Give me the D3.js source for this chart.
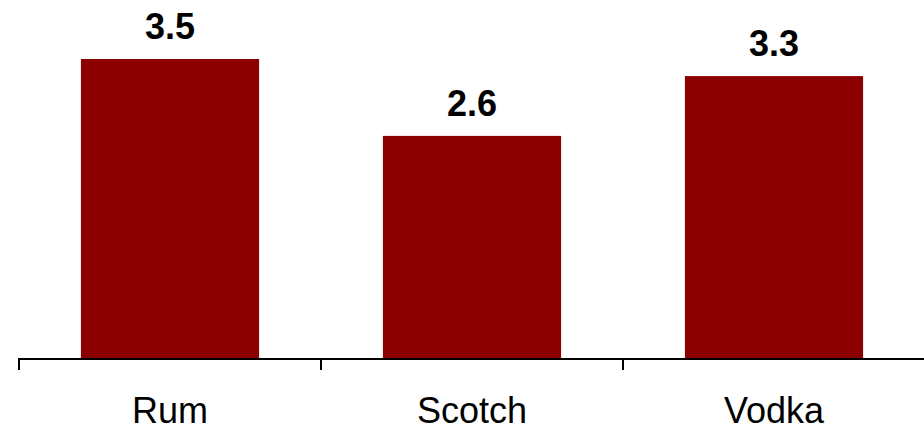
<!DOCTYPE html>
<html>
<head>
<meta charset="utf-8">
<script src="https://cdn.jsdelivr.net/npm/d3@7"></script>
<style>
  html, body { margin: 0; padding: 0; background: #ffffff; }
  svg { display: block; }
</style>
</head>
<body>
<svg id="chart" width="924" height="431"></svg>
<script>
const categories = ["Rum", "Scotch", "Vodka"];
const values = [3.5, 2.6, 3.3];
const valueLabels = ["3.5", "2.6", "3.3"];

const svg = d3.select("#chart");
const W = 924, H = 431;
const x0 = 19, x1 = 925;
const baseY = 358;

const x = d3.scaleBand()
  .domain(categories)
  .range([x0, x1])
  .paddingInner(0.41)
  .paddingOuter(0.205);

const y = d3.scaleLinear()
  .domain([0, 3.5])
  .range([baseY, 59]);

const barColor = "#8b0000";
const font = "Liberation Sans, Arial, Helvetica, sans-serif";

// bars
svg.append("g").selectAll("rect")
  .data(categories)
  .join("rect")
  .attr("x", d => x(d))
  .attr("y", (d, i) => y(values[i]))
  .attr("width", x.bandwidth())
  .attr("height", (d, i) => y(0) - y(values[i]))
  .attr("fill", barColor);

// value labels
svg.append("g").selectAll("text")
  .data(categories)
  .join("text")
  .attr("x", d => x(d) + x.bandwidth() / 2)
  .attr("y", (d, i) => y(values[i]) - 20)
  .attr("text-anchor", "middle")
  .attr("font-family", font)
  .attr("font-weight", "bold")
  .attr("font-size", 36)
  .attr("fill", "#000")
  .text((d, i) => valueLabels[i]);

// axis line
const axisY = baseY + 1;
svg.append("line")
  .attr("x1", x0).attr("x2", x1)
  .attr("y1", axisY).attr("y2", axisY)
  .attr("stroke", "#000")
  .attr("stroke-width", 2);

// ticks at band boundaries
const half = (x.step() - x.bandwidth()) / 2;
const boundaries = categories.map(d => x(d) - half).concat([x(categories[categories.length - 1]) + x.bandwidth() + half]);
svg.append("g").selectAll("line")
  .data(boundaries)
  .join("line")
  .attr("x1", d => d).attr("x2", d => d)
  .attr("y1", axisY - 1).attr("y2", 370)
  .attr("stroke", "#000")
  .attr("stroke-width", 2);

// category labels
svg.append("g").selectAll("text")
  .data(categories)
  .join("text")
  .attr("x", d => x(d) + x.bandwidth() / 2)
  .attr("y", 423)
  .attr("text-anchor", "middle")
  .attr("font-family", font)
  .attr("font-size", 36)
  .attr("fill", "#000")
  .text(d => d);
</script>
</body>
</html>
